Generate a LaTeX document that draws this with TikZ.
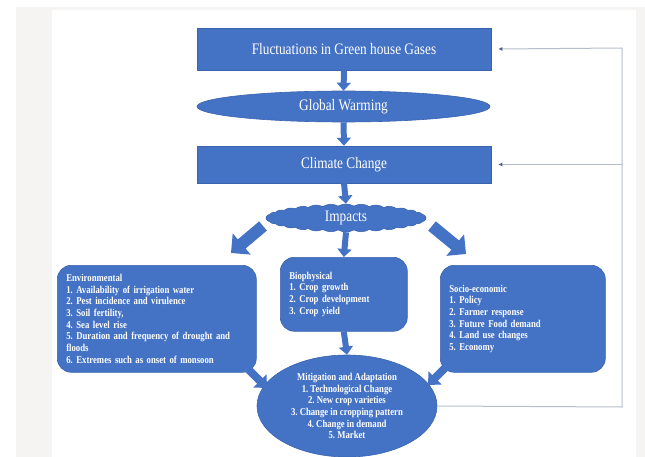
\documentclass[tikz,border=0pt]{standalone}
\usepackage{fontspec}
\setmainfont[FakeStretch=0.83]{Liberation Serif}
\usetikzlibrary{arrows.meta,shapes.geometric,shapes.symbols}
\definecolor{boxblue}{HTML}{4472C4}
\definecolor{edgeblue}{HTML}{3A64AE}
\definecolor{fbline}{HTML}{B6BDCB}
\definecolor{fbtip}{HTML}{4A5F8C}
\definecolor{pagegrey}{HTML}{F5F4F2}
\begin{document}
\frenchspacing
\begin{tikzpicture}[x=1pt,y=-1pt,
  bluebox/.style={draw=edgeblue, line width=0.6pt, fill=boxblue, text=white, inner sep=0pt},
  titletext/.style={font=\fontsize{16}{18}\selectfont},
  listbox/.style={bluebox, rounded corners=14pt, font=\bfseries\fontsize{10.5}{11.7}\selectfont, align=left, inner xsep=9pt, anchor=north west},
  arrowS/.style={draw=boxblue, line width=6pt, -{Triangle[width=14pt,length=8pt]}},
  arrowM/.style={draw=boxblue, line width=8pt, -{Triangle[width=18pt,length=10pt]}},
  arrowL/.style={draw=boxblue, line width=12pt, -{Triangle[width=27pt,length=14pt]}},
  fb/.style={draw=fbline, line width=1pt},
  fbarrow/.style={fb, -{Latex[length=4pt,width=4pt,color=fbtip]}}
]
\useasboundingbox (0,0) rectangle (645,457);
\fill[white] (0,0) rectangle (645,457);
\fill[pagegrey] (16,7) rectangle (645,457);
\fill[white] (52,10) rectangle (636,457);

% top chain
\node[bluebox, titletext, minimum width=294pt, minimum height=42pt] (top) at (344,49) {Fluctuations in Green house Gases};
\node[bluebox, ellipse, titletext, minimum width=293pt, minimum height=31pt] (gw) at (343.5,106.5) {Global Warming};
\node[bluebox, titletext, minimum width=294pt, minimum height=37pt] (climate) at (344,164.5) {Climate Change};
\node[bluebox, cloud, cloud puffs=32, cloud puff arc=60, cloud ignores aspect, titletext, minimum width=160pt, minimum height=28pt] (impacts) at (346,218) {Impacts};

% three boxes
\node[listbox, text width=181pt, minimum height=107pt] (env) at (57,265) {Environmental\\
1. Availability of irrigation water\\
2. Pest incidence and virulence\\
3. Soil fertility,\\
4. Sea level rise\\
5. Duration and frequency of drought and\\
floods\\
6. Extremes such as onset of monsoon};
\node[listbox, text width=109pt, minimum height=74pt] (bio) at (280,257) {Biophysical\\
1. Crop growth\\
2. Crop development\\
3. Crop yield};
\node[listbox, text width=147pt, minimum height=107pt] (socio) at (440,265) {Socio-economic\\
1. Policy\\
2. Farmer response\\
3. Future Food demand\\
4. Land use changes\\
5. Economy};

% mitigation
\node[bluebox, ellipse, minimum width=180pt, minimum height=102pt, align=center, font=\bfseries\fontsize{10.5}{11.7}\selectfont] (mitig) at (347,406) {Mitigation and Adaptation\\
1. Technological Change\\
2. New crop varieties\\
3. Change in cropping pattern\\
4. Change in demand\\
5. Market};

% block arrows
\draw[arrowS] (top.south) -- (gw.north);
\draw[arrowS] (gw.south) -- (climate.north);
\draw[arrowS] (climate.south) -- (impacts.north);
\draw[arrowS] (impacts.south) -- (bio.north);
\draw[arrowS] (bio.south) -- (mitig.north);

\coordinate (a1s) at (263,226);
\coordinate (a1e) at (231,253);
\coordinate (a2s) at (432,226);
\coordinate (a2e) at (466,254);
\draw[arrowL] (a1s) -- (a1e);
\draw[arrowL] (a2s) -- (a2e);

\coordinate (a3s) at (245,366);
\coordinate (a3e) at (267,388);
\coordinate (a4s) at (449,364);
\coordinate (a4e) at (428,385);
\draw[arrowM] (a3s) -- (a3e);
\draw[arrowM] (a4s) -- (a4e);

% feedback
\coordinate (fbR) at (622,407);
\coordinate (fbT) at (622,48);
\draw[fb] (mitig.east) -- (fbR) -- (fbT);
\draw[fbarrow] (fbT) -- ([xshift=7pt]top.east);
\draw[fbarrow] (fbR |- climate.east) -- ([xshift=7pt]climate.east);
\end{tikzpicture}
\end{document}
